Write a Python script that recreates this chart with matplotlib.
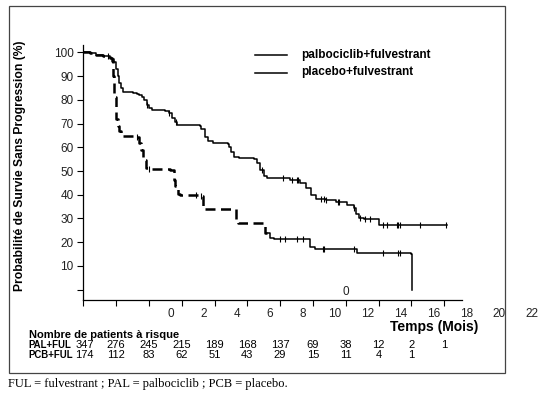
import numpy as np
import matplotlib; matplotlib.use("Agg")
import matplotlib.pyplot as plt
from matplotlib.lines import Line2D
from matplotlib.patches import Rectangle

plt.rcParams["font.family"] = ["Liberation Sans", "DejaVu Sans"]

# Kaplan-Meier curves (months, % progression-free)
pal_t = [0, 0.4, 0.8, 1.2, 1.6, 1.75, 1.9, 2.0, 2.1, 2.2, 2.3, 2.4, 3.0, 3.3, 3.4, 3.6, 3.7,
         3.9, 4.0, 4.2, 5.0, 5.2, 5.4, 5.6, 5.7, 7.1, 7.2, 7.4, 7.6, 7.9, 8.8, 8.9, 9.0, 9.2,
         9.5, 10.4, 10.6, 10.8, 11.0, 11.2, 12.0, 12.6, 13.2, 13.6, 13.9, 14.2, 14.8, 15.4,
         16.1, 16.5, 16.6, 16.8, 17.1, 18.0, 18.05, 22.16]
pal_s = [100, 99.6, 99.0, 98.5, 97.5, 97.0, 96.0, 93.0, 90.0, 87.0, 85.0, 83.3, 83.0, 82.5,
         82.0, 81.0, 80.0, 78.0, 76.5, 75.8, 75.5, 74.5, 72.5, 70.5, 69.3, 69.0, 67.5, 64.5,
         62.5, 61.8, 61.5, 60.0, 58.0, 56.0, 55.5, 55.0, 53.5, 50.5, 48.0, 47.2, 47.0, 46.3,
         44.9, 42.8, 40.0, 38.3, 38.0, 37.1, 35.7, 34.3, 32.0, 30.1, 29.8, 29.7, 27.3, 27.3]
pcb_t = [0, 0.4, 0.8, 1.2, 1.6, 1.75, 1.8, 1.9, 2.0, 2.1, 2.2, 2.3, 3.3, 3.4, 3.5, 3.65, 3.85,
         4.0, 5.3, 5.5, 5.6, 5.8, 5.9, 7.2, 7.3, 7.45, 9.1, 9.3, 9.45, 10.9, 11.1, 11.4, 11.6,
         13.6, 13.8, 14.1, 16.4, 16.7, 16.9, 20.0, 20.02]
pcb_s = [100, 99.6, 99.0, 98.5, 97.5, 96.5, 90.0, 81.4, 72.0, 68.8, 66.7, 64.6, 64.3, 62.0,
         58.9, 54.7, 51.2, 50.8, 50.5, 46.3, 43.5, 40.5, 39.7, 39.5, 35.0, 34.0, 33.8, 28.7,
         28.3, 28.0, 23.8, 21.7, 21.3, 21.2, 18.1, 17.2, 17.0, 15.6, 15.3, 15.2, 0.0]
pal_cens = [1.5, 3.9, 5.2, 5.65, 10.9, 12.2, 12.7, 13.0, 13.1, 14.5, 14.7, 14.8, 15.5, 15.6,
            16.5, 16.9, 17.2, 17.5, 18.3, 18.5, 19.1, 19.2, 19.3, 20.5, 22.1]
pcb_cens = [3.3, 4.0, 6.9, 7.2, 12.0, 12.3, 13.0, 13.4, 14.6, 14.7, 16.5, 18.3, 19.2, 19.3]

y_ticks = [0, 10, 20, 30, 40, 50, 60, 70, 80, 90, 100]
x_ticks = list(range(0, 23, 2))
x_labels = [str(v) for v in range(0, 23, 2)]
legend_labels = ["palbociclib+fulvestrant", "placebo+fulvestrant"]
risk_pal = [347, 276, 245, 215, 189, 168, 137, 69, 38, 12, 2, 1]
risk_pcb = [174, 112, 83, 62, 51, 43, 29, 15, 11, 4, 1]

W, H = 549, 394
fig = plt.figure(figsize=(W / 100, H / 100), dpi=100)
def fx(px): return px / W
def fy(py): return 1 - py / H

ax = fig.add_axes([fx(83.3), fy(300), fx(461.7) - fx(83.3), fy(45) - fy(300)])
ax.set_xlim(0, 23.07)
ax.set_ylim(-4.34, 103.1)
for s in ["top", "right"]:
    ax.spines[s].set_visible(False)
for s in ["left", "bottom"]:
    ax.spines[s].set_linewidth(0.9)

def step_at(t, s, x):
    i = np.searchsorted(t, x, side="right") - 1
    return np.asarray(s)[i]

# palbociclib: solid
ax.plot(pal_t, pal_s, color="black", lw=1.1, drawstyle="steps-post")
ax.plot(pal_cens, step_at(pal_t, pal_s, pal_cens), ls="none", marker="|", ms=4.5,
        mew=0.8, color="black")
# placebo: dashed early part, solid later
split = 11.2
t = np.array(pcb_t); s = np.array(pcb_s)
k = np.searchsorted(t, split)
ax.plot(np.r_[t[:k], split], np.r_[s[:k], s[k - 1]], color="black", lw=1.8,
        ls=(0, (4, 2.2)), drawstyle="steps-post")
ax.plot(np.r_[split, t[k:]], np.r_[s[k - 1], s[k:]], color="black", lw=1.1,
        drawstyle="steps-post")
ax.plot(pcb_cens, step_at(pcb_t, pcb_s, pcb_cens), ls="none", marker="|", ms=4.5,
        mew=0.8, color="black")

ax.set_yticks(y_ticks)
ax.set_yticklabels([str(v) if v else "" for v in y_ticks], fontsize=8.5, color="#222222")
ax.set_xticks(x_ticks)
ax.set_xticklabels([])
ax.tick_params(direction="out", length=4, width=0.8, pad=3)

# shifted x labels as in the source
for i, lab in enumerate(x_labels):
    ax.text(5.35 + x_ticks[i], -0.055, lab, transform=ax.get_xaxis_transform(),
            ha="center", va="center", fontsize=8.5, color="#222222", clip_on=False)
ax.text(16.0, -0.8, "0", ha="center", va="center", fontsize=8.5, color="#222222")

fig.text(fx(434), fy(327), "Temps (Mois)", ha="center", va="center", fontsize=10,
         fontweight="bold")
fig.text(fx(20), fy(166), "Probabilité de Survie Sans Progression (%)", rotation=90,
         ha="center", va="center", fontsize=8.7, fontweight="bold")

# legend
for i, lab in enumerate(legend_labels):
    yy = fy(55 + 17.5 * i)
    fig.add_artist(Line2D([fx(255), fx(287)], [yy, yy], color="black", lw=1.1))
    fig.text(fx(301), yy, lab, ha="left", va="center", fontsize=8.5, fontweight="bold")

# number at risk
fig.text(fx(29), fy(335), "Nombre de patients à risque", ha="left", va="center",
         fontsize=8, fontweight="bold")
narrow = ["Liberation Sans Narrow", "DejaVu Sans Condensed", "Liberation Sans"]
for row, (name, vals) in enumerate([("PAL+FUL", risk_pal), ("PCB+FUL", risk_pcb)]):
    yy = fy(344.5 + 10.5 * row)
    fig.text(fx(28), yy, name, ha="left", va="center", fontsize=6.9, fontweight="bold")
    for j, v in enumerate(vals):
        xpix = 83.3 + 32.8 * j + (1.5 if j == 0 else 0)
        fig.text(fx(xpix), yy, str(v), ha="center", va="center", fontsize=8, family=narrow)

# frame and caption
fig.add_artist(Rectangle((fx(9), fy(373)), fx(505) - fx(9), fy(6) - fy(373),
                         transform=fig.transFigure, fill=False, lw=0.9, ec="#444444"))
fig.text(fx(8), fy(384), "FUL = fulvestrant ; PAL = palbociclib ; PCB = placebo.",
         ha="left", va="center", fontsize=9, family=["Liberation Serif", "DejaVu Serif"])

fig.savefig("out.png", dpi=100)
